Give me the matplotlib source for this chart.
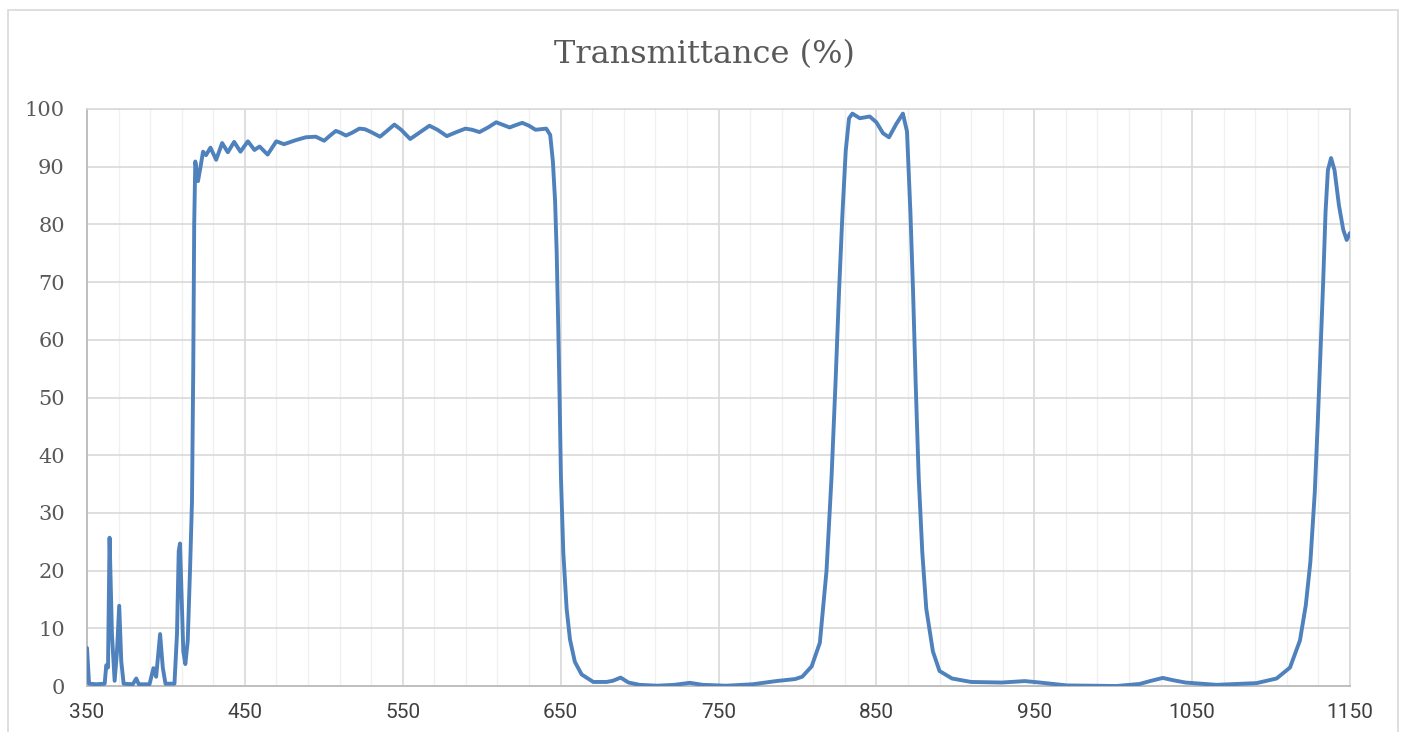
import numpy as np
import matplotlib
matplotlib.use("Agg")
import matplotlib.pyplot as plt
from matplotlib.patches import Rectangle

# --- data (wavelength nm, transmittance %) ---
wavelength = [
    350, 351.3, 356, 361.2, 362.2, 363.3, 364.3, 365.8, 367.5, 369, 370.4, 371.7,
    373.2, 379, 381.2, 382.8, 389.6, 392.1, 393.8, 396.3, 398, 399.7, 405.4, 407,
    408.1, 408.9, 410, 411, 412.3, 413.8, 415.3, 416.5, 417.3, 417.9, 418.6, 420.3,
    421.8, 423.5, 425.4, 428.2, 431.8, 435.6, 439.2, 443.2, 447.2, 451.9, 456.1,
    459.3, 464.4, 469.9, 474.8, 482.2, 488.6, 494.9, 500.2, 504, 507.6, 510.5, 514,
    518, 522.5, 526, 530, 535.6, 540, 544.7, 549, 554.7, 560, 566.9, 572, 577.9,
    584, 589.7, 594, 598.6, 604, 609.2, 613, 617.7, 621.5, 625.7, 630, 634.1,
    640.9, 643.4, 645.1, 646.5, 647.5, 648.5, 649.4, 650.2, 651.7, 653.8, 655.9,
    659, 663.3, 670.7, 679, 683, 688, 693, 700, 711, 722, 731.8, 740, 754.8,
    771.8, 786.4, 798.5, 803, 809, 814.2, 818.4, 821.6, 824.1, 826.4, 828.5,
    830.6, 832.7, 834.8, 839.5, 845.8, 850, 854.2, 858, 862.6, 866.8, 869.4,
    871.6, 873.2, 874.9, 876.8, 879.1, 881.6, 885.8, 890, 897.9, 910, 929.4,
    944, 953.6, 970.6, 1002, 1016.7, 1024, 1031.4, 1038, 1045.8, 1065.4, 1090.8,
    1103.5, 1112, 1118.3, 1122, 1124.9, 1127.7, 1129.6, 1131.3, 1133, 1134.5,
    1136, 1138, 1140.2, 1143, 1145.7, 1147.9, 1150,
]
transmittance = [
    6.6, 0.4, 0.3, 0.4, 3.6, 3.2, 25.7, 9.0, 0.9, 6.0, 13.9, 4.3,
    0.4, 0.3, 1.3, 0.3, 0.3, 3.1, 1.6, 9.0, 3.2, 0.4, 0.4, 9.0,
    23.4, 24.7, 14.7, 6.0, 3.8, 7.8, 20.5, 32.0, 55.0, 80.0, 90.9, 87.5,
    89.8, 92.6, 92.0, 93.3, 91.2, 94.1, 92.5, 94.3, 92.6, 94.4, 92.9,
    93.5, 92.1, 94.4, 93.9, 94.6, 95.1, 95.2, 94.5, 95.4, 96.2, 95.9, 95.4,
    95.9, 96.6, 96.5, 96.0, 95.2, 96.2, 97.3, 96.4, 94.8, 95.8, 97.1, 96.4, 95.3,
    96.0, 96.6, 96.4, 96.0, 96.8, 97.7, 97.3, 96.8, 97.2, 97.6, 97.1, 96.4,
    96.6, 95.5, 90.9, 84.0, 75.2, 62.2, 49.2, 36.2, 23.1, 13.4, 8.1,
    4.2, 2.0, 0.7, 0.7, 0.9, 1.45, 0.6, 0.2, 0.05, 0.2, 0.55, 0.2, 0.05,
    0.3, 0.85, 1.2, 1.6, 3.4, 7.5, 19.9, 36.2, 52.4, 68.7, 81.8,
    92.8, 98.4, 99.2, 98.4, 98.7, 97.7, 95.8, 95.1, 97.4, 99.2, 96.1,
    81.8, 68.7, 52.4, 36.2, 23.1, 13.4, 6.0, 2.6, 1.3, 0.7, 0.6,
    0.85, 0.6, 0.1, 0.0, 0.35, 0.9, 1.4, 1.0, 0.6, 0.2, 0.5,
    1.3, 3.2, 7.9, 14.0, 21.5, 33.6, 45.8, 57.9, 70.0, 82.1,
    89.4, 91.5, 89.4, 83.3, 79.1, 77.3, 78.5,
]
x_ticks = [350, 450, 550, 650, 750, 850, 950, 1050, 1150]
y_ticks = [0, 10, 20, 30, 40, 50, 60, 70, 80, 90, 100]
title = "Transmittance (%)"

# --- figure ---
fig = plt.figure(figsize=(14.07, 7.32), dpi=100)
ax = fig.add_axes([87 / 1407, 1 - 686 / 732, (1350 - 87) / 1407, (686 - 109) / 732])

# chart area border
fig.patches.append(Rectangle((8 / 1407, -0.05), (1398 - 8) / 1407, 1.05 - 10 / 732,
                             transform=fig.transFigure, fill=False,
                             edgecolor="#D9D9D9", linewidth=1.2))

ax.plot(wavelength, transmittance, color="#4F81BD", linewidth=2.8,
        solid_joinstyle="round", solid_capstyle="round", zorder=3)

ax.set_xlim(350, 1150)
ax.set_ylim(0, 100)
ax.set_xticks(x_ticks)
ax.set_xticks(np.arange(350, 1151, 20), minor=True)
ax.set_yticks(y_ticks)

ax.grid(which="minor", axis="x", color="#F0F0F0", linewidth=1.0, zorder=0)
ax.grid(which="major", axis="x", color="#D9D9D9", linewidth=1.2, zorder=1)
ax.grid(which="major", axis="y", color="#D9D9D9", linewidth=1.2, zorder=1)

for side in ["top", "right"]:
    ax.spines[side].set_color("#D9D9D9")
    ax.spines[side].set_linewidth(1.2)
for side in ["left", "bottom"]:
    ax.spines[side].set_color("#BFBFBF")
    ax.spines[side].set_linewidth(1.4)

ax.tick_params(which="both", length=0)
ax.tick_params(axis="x", pad=12)
ax.tick_params(axis="y", pad=16)
for lbl in ax.get_xticklabels():
    lbl.set_fontfamily("Roboto")
    lbl.set_fontsize(15)
    lbl.set_color("#404040")
for lbl in ax.get_yticklabels():
    lbl.set_fontfamily("DejaVu Serif")
    lbl.set_fontsize(15)
    lbl.set_color("#595959")

fig.text(704 / 1407, 1 - 55 / 732, title, ha="center", va="center",
         fontfamily="DejaVu Serif", fontsize=23, color="#595959")

fig.savefig("out.png", dpi=100)
